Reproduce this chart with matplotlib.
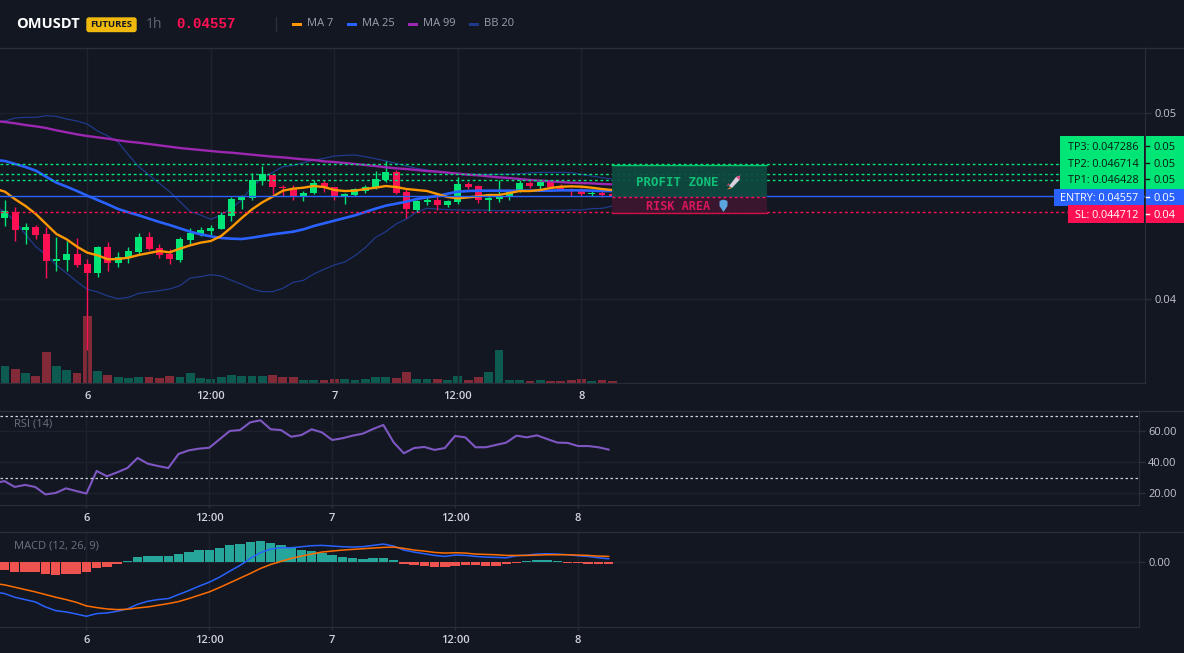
import numpy as np
import matplotlib
matplotlib.use("Agg")
import matplotlib.pyplot as plt
from matplotlib.patches import Rectangle, FancyBboxPatch, Polygon

W, H = 1184, 653
BG = "#131722"
GRID = "#1e222d"
BORDER = "#2a2e39"
UP = "#00e676"
DOWN = "#ff1053"

plt.rcParams["font.family"] = ["Open Sans", "DejaVu Sans"]

# prices are in millionths of USDT
open_p = [44373, 44677, 43728, 43871, 43495, 42061, 42097, 42419, 41882, 41398,
          42796, 41936, 42204, 42527, 43333, 42742, 42419, 42097, 43172, 43495,
          43656, 43763, 44462, 45322, 45430, 46344, 46666, 46003, 45914, 45484,
          45699, 46236, 46021, 45484, 45591, 45806, 45968, 46398, 46828, 45752,
          44785, 45215, 45322, 45054, 45215, 46183, 46075, 45322, 45376, 45484,
          45806, 46236, 46075, 46290, 46075, 45914, 45914, 45663, 45699, 45645]
high_p = [45322, 44928, 44068, 43978, 43853, 43333, 43136, 43280, 42151, 42849,
          43064, 42527, 42796, 43548, 43602, 42957, 42688, 43333, 43817, 43871,
          43978, 44677, 45484, 45591, 46774, 47150, 46720, 46129, 46129, 45806,
          46398, 46398, 46021, 45699, 45968, 46129, 46881, 47419, 46935, 45968,
          45322, 45537, 45537, 45322, 46559, 46290, 46129, 45537, 46398, 45860,
          46398, 46344, 46344, 46344, 46183, 45968, 45968, 45914, 45806, 45806]
low_p = [43943, 43136, 42975, 43226, 41147, 41523, 41523, 41720, 37259, 41201,
         41523, 41738, 41936, 42419, 42634, 42204, 41882, 41989, 42957, 43387,
         43441, 43763, 44193, 44839, 45322, 46129, 45645, 45537, 45322, 45269,
         45645, 45752, 45322, 45107, 45537, 45699, 45914, 46290, 45645, 44355,
         44677, 45054, 44785, 44946, 45107, 45914, 45161, 44731, 45215, 45322,
         45752, 45968, 45860, 45968, 45860, 45537, 45537, 45537, 45484, 45484]
close_p = [44731, 43728, 43871, 43441, 42061, 42151, 42419, 41846, 41398, 42796,
           41936, 42258, 42581, 43333, 42688, 42366, 42151, 43226, 43548, 43710,
           43817, 44516, 45376, 45484, 46398, 46702, 46021, 45968, 45484, 45699,
           46236, 46021, 45484, 45645, 45914, 46021, 46451, 46828, 45699, 44839,
           45269, 45322, 45054, 45269, 46183, 46021, 45322, 45430, 45537, 45752,
           46236, 46075, 46290, 46021, 45860, 45878, 45645, 45699, 45591, 45484]
volume = [52, 43, 31, 22, 94, 52, 40, 31, 202, 37,
          25, 19, 16, 19, 19, 16, 22, 19, 31, 16,
          13, 19, 25, 22, 22, 22, 25, 19, 19, 10,
          10, 10, 13, 13, 10, 13, 19, 19, 16, 34,
          13, 13, 13, 10, 22, 10, 19, 34, 100, 10,
          10, 7, 10, 7, 7, 10, 13, 7, 10, 7]

# the line series have one more point, off the left edge
ma7 = [45932, 45770, 45358, 45000, 44570, 44032, 43495, 43208, 42814, 42491,
       42348, 42133, 42151, 42222, 42366, 42473, 42581, 42509, 42706, 42885,
       43029, 43118, 43387, 43853, 44355, 44821, 45197, 45502, 45824, 45932,
       45985, 46075, 46021, 45860, 45806, 45824, 45914, 45985, 46075, 46021,
       45914, 45860, 45806, 45645, 45484, 45412, 45466, 45520, 45591, 45591,
       45699, 45806, 45806, 45860, 45968, 46039, 46057, 46039, 45985, 45914, 45860]
ma25 = [47473, 47419, 47258, 47096, 46899, 46577, 46254, 46039, 45806, 45555,
        45322, 45089, 44839, 44659, 44498, 44319, 44140, 43978, 43799, 43620,
        43477, 43369, 43280, 43244, 43226, 43297, 43387, 43477, 43548, 43620,
        43745, 43925, 44068, 44211, 44355, 44498, 44677, 44856, 45018, 45125,
        45233, 45376, 45466, 45537, 45663, 45770, 45806, 45824, 45824, 45824,
        45824, 45824, 45824, 45824, 45824, 45842, 45842, 45842, 45824, 45806, 45806]
ma99 = [49569, 49516, 49444, 49354, 49283, 49193, 49068, 48960, 48853, 48763,
        48691, 48620, 48530, 48458, 48405, 48333, 48261, 48190, 48118, 48064,
        48010, 47957, 47903, 47867, 47813, 47760, 47706, 47652, 47616, 47562,
        47509, 47473, 47401, 47365, 47312, 47258, 47204, 47150, 47079, 47025,
        46989, 46935, 46881, 46846, 46792, 46738, 46684, 46648, 46595, 46541,
        46505, 46451, 46398, 46362, 46326, 46290, 46254, 46236, 46218, 46183, 46165]
bb_upper = [49534, 49569, 49731, 49767, 49767, 49856, 49820, 49677, 49569, 49408,
            49032, 48763, 48440, 47742, 47114, 46666, 46218, 45770, 45233, 44695,
            44516, 44283, 44516, 44874, 45322, 46039, 46487, 46810, 47114, 47186,
            47329, 47473, 47562, 47688, 47724, 47742, 47652, 47544, 47419, 47294,
            47150, 47025, 46935, 46864, 46810, 46756, 46720, 46702, 46702, 46702,
            46720, 46738, 46774, 46810, 46810, 46810, 46792, 46702, 46613, 46523, 46451]
bb_lower = [44964, 44695, 44158, 43477, 42814, 42366, 41828, 41380, 40932, 40520,
            40376, 40161, 40018, 40090, 40305, 40376, 40448, 40538, 40717, 41129,
            41201, 41308, 41237, 41004, 40789, 40538, 40394, 40394, 40574, 40896,
            41004, 41344, 41595, 41828, 41989, 42330, 42760, 43315, 43620, 44032,
            44301, 44677, 44874, 44839, 44803, 44785, 44767, 44785, 44767, 44749,
            44749, 44749, 44749, 44767, 44767, 44767, 44785, 44785, 44856, 44874, 45000]

rsi = [26.4, 27.9, 24.1, 25.4, 24.1, 19.3, 20.2, 23.2, 21.5, 19.8,
       34.4, 31.0, 33.5, 36.3, 42.8, 39.1, 37.6, 36.3, 45.4, 47.7,
       48.8, 49.4, 54.8, 60.2, 60.8, 65.8, 67.1, 61.3, 60.8, 56.5,
       57.6, 61.3, 59.3, 54.4, 55.5, 57.2, 58.5, 61.5, 64.1, 52.9,
       45.8, 49.2, 49.9, 48.0, 49.2, 57.0, 56.1, 49.7, 49.7, 51.2,
       52.7, 57.2, 56.1, 57.4, 55.0, 52.7, 52.5, 50.5, 50.5, 49.7, 48.2]

# macd series in 1e-5 USDT
macd_hist = [-25, -32, -32, -32, -38, -41, -36, -36, -32, -20,
             -17, -8, 2, 14, 16, 16, 16, 22, 28, 34,
             34, 40, 49, 52, 58, 61, 55, 49, 40, 34,
             31, 25, 19, 13, 10, 7, 10, 10, 4, -8,
             -10, -14, -17, -17, -12, -10, -10, -12, -12, -8,
             -5, 2, 4, 4, 2, -3, -4, -8, -8, -8]
macd_line = [-90, -95, -106, -113, -120, -135, -146, -150, -156, -163,
             -155, -153, -148, -141, -127, -118, -113, -110, -98, -86,
             -73, -61, -46, -28, -11, 10, 27, 38, 42, 42,
             45, 48, 49, 47, 45, 44, 45, 49, 53, 47,
             35, 29, 24, 19, 16, 20, 19, 16, 14, 13,
             12, 18, 20, 23, 24, 23, 21, 18, 16, 12, 9]
macd_signal = [-65, -69, -76, -83, -90, -98, -106, -113, -121, -132,
               -137, -141, -143, -142, -138, -135, -130, -125, -119, -110,
               -100, -90, -77, -63, -49, -35, -20, -8, 1, 10,
               17, 23, 29, 32, 35, 37, 39, 41, 43, 44,
               40, 35, 32, 28, 26, 27, 26, 23, 22, 21,
               19, 19, 19, 20, 21, 21, 21, 20, 19, 17, 16]

# level lines as they sit on the picture, the tags carry the printed values
tp_levels = [0.047242, 0.046704, 0.046382]
entry_level = 0.045522
sl_level = 0.044661

tick_pos = [8, 20, 32, 44, 56]
tick_names = ["6", "12:00", "7", "12:00", "8"]


def panel(x0, y0, x1, y1):
    return fig.add_axes([x0 / W, 1 - y1 / H, (x1 - x0) / W, (y1 - y0) / H])


def index_range(x0_px, x1_px, anchor, step):
    return (x0_px - anchor) / step + 8, (x1_px - anchor) / step + 8


def style_axis(a):
    a.set_facecolor("none")
    for s in ["top", "left"]:
        a.spines[s].set_visible(False)
    for s in ["right", "bottom"]:
        a.spines[s].set_color(BORDER)
    a.yaxis.tick_right()
    a.set_xticks(tick_pos, tick_names)
    a.tick_params(axis="x", colors=BORDER, labelcolor="#d1d4dc", length=2, width=1, labelsize=8, pad=4)
    a.tick_params(axis="y", colors=BORDER, labelcolor="#c3c6ce", length=4, width=1, labelsize=8, pad=3)
    for lab in a.get_xticklabels():
        lab.set_fontweight("semibold")
    a.grid(True, color=GRID, linewidth=1)
    a.set_axisbelow(True)


fig = plt.figure(figsize=(W / 100, H / 100), dpi=100, facecolor=BG)

x_candle = np.arange(len(close_p))
x_line = np.arange(len(ma7)) - 1
o = np.array(open_p) / 1e6
h = np.array(high_p) / 1e6
l = np.array(low_p) / 1e6
c = np.array(close_p) / 1e6
is_up = c >= o
colors = [UP if u else DOWN for u in is_up]

# volume lives behind the candles
ax_vol = panel(0, 48, 1145, 383)
ax_vol.set_zorder(1)
ax_vol.set_facecolor(BG)
ax_vol.axis("off")
ax_vol.set_xlim(*index_range(0, 1145, 87.3, 10.294))
ax_vol.set_ylim(0, 1005)
ax_vol.bar(x_candle, volume, width=0.86,
           color=["#0c5a50" if u else "#832a38" for u in is_up])

ax = panel(0, 48, 1145, 383)
ax.set_zorder(2)
style_axis(ax)
ax.set_xlim(*index_range(0, 1145, 87.3, 10.294))
ax.set_ylim(0.035484, 0.053495)
ax.set_yticks([0.04, 0.05], ["0.04", "0.05"])
ax.tick_params(axis="x", length=0, pad=6)

ax.plot(x_line, np.array(bb_upper) / 1e6, color="#1f3a8a", lw=0.9, zorder=2)
ax.plot(x_line, np.array(bb_lower) / 1e6, color="#1f3a8a", lw=0.9, zorder=2)

ax.vlines(x_candle, l, h, colors=colors, lw=1.0, zorder=3)
ax.bar(x_candle, np.maximum(np.abs(c - o), 0.00002), bottom=np.minimum(o, c),
       width=0.68, color=colors, zorder=3)

ax.plot(x_line, np.array(ma99) / 1e6, color="#9c27b0", lw=1.7, zorder=4)
ax.plot(x_line, np.array(ma25) / 1e6, color="#2962ff", lw=1.9, zorder=5)
ax.plot(x_line, np.array(ma7) / 1e6, color="#ff9800", lw=1.7, zorder=6)

for lvl in tp_levels:
    ax.axhline(lvl, color=UP, lw=1, ls=(0, (2, 2)), zorder=7)
ax.axhline(entry_level, color="#2962ff", lw=1, zorder=7)
ax.axhline(sl_level, color=DOWN, lw=1, ls=(0, (2, 2)), zorder=7)

# rsi
ax_rsi = panel(0, 411, 1138.5, 505)
style_axis(ax_rsi)
ax_rsi.set_xlim(*index_range(0, 1138.5, 86.4, 10.24))
ax_rsi.set_ylim(12.45, 73.1)
ax_rsi.set_yticks([20, 40, 60], ["20.00", "40.00", "60.00"])
ax_rsi.plot(x_line, rsi, color="#7e57c2", lw=1.5)
for lvl in [70, 30]:
    ax_rsi.axhline(lvl, color="#d1d4dc", lw=0.9, ls=(0, (2, 2)))

# macd
ax_macd = panel(0, 532, 1138.5, 627)
style_axis(ax_macd)
ax_macd.set_xlim(*index_range(0, 1138.5, 86.4, 10.24))
ax_macd.set_ylim(-195e-5, 89e-5)
ax_macd.set_yticks([0], ["0.00"])
hist = np.array(macd_hist) * 1e-5
ax_macd.bar(x_candle, hist, width=0.92,
            color=["#26a69a" if v >= 0 else "#ef5350" for v in hist], zorder=2)
ax_macd.plot(x_line, np.array(macd_line) * 1e-5, color="#2962ff", lw=1.1, zorder=3)
ax_macd.plot(x_line, np.array(macd_signal) * 1e-5, color="#ff6d00", lw=1.1, zorder=4)

# pixel overlay for header, price tags and the trade box
ov = fig.add_axes([0, 0, 1, 1], zorder=10)
ov.set_xlim(0, W)
ov.set_ylim(H, 0)
ov.axis("off")
ov.patch.set_visible(False)

ov.plot([0, W], [48, 48], color=BORDER, lw=1)
ov.plot([0, W], [410.5, 410.5], color=BORDER, lw=1)
ov.plot([0, W], [532, 532], color=BORDER, lw=1)

ov.text(16, 24, "OMUSDT", color="white", fontsize=10.5, fontweight="bold", va="center")
ov.add_patch(FancyBboxPatch((87, 18), 49, 13.5, boxstyle="round,pad=0,rounding_size=2",
                            fc="#f0b90b", ec="#f0b90b", lw=1))
ov.text(111.5, 24.7, "FUTURES", color="#131722", fontsize=6.8, fontweight="bold", ha="center", va="center")
ov.text(146, 24, "1h", color="#5d6673", fontsize=10, va="center")
ov.text(176, 24, "0.04557", color=DOWN, fontsize=10.2, fontweight="bold",
        family="Liberation Mono", va="center")
ov.plot([276, 276], [17, 31], color=BORDER, lw=1)

legend_items = [("MA 7", "#ff9800", 292), ("MA 25", "#2962ff", 347),
                ("MA 99", "#9c27b0", 408), ("BB 20", "#1f3a8a", 469)]
for name, col, x in legend_items:
    ov.add_patch(Rectangle((x, 23), 10, 2.5, fc=col, ec="none"))
    ov.text(x + 15, 24, name, color="#9aa0ac", fontsize=8, va="center")

ov.text(14, 424, "RSI (14)", color="#6a7280", fontsize=8, va="center")
ov.text(14, 546, "MACD (12, 26, 9)", color="#6a7280", fontsize=8, va="center")

# trade box
ov.add_patch(Rectangle((612, 165), 155, 32, fc="#0e4a40", ec="none", alpha=0.93))
ov.add_patch(Rectangle((612, 197), 155, 16, fc="#3e1530", ec="none", alpha=0.93))
ov.plot([612, 767], [165, 165], color=UP, lw=1, alpha=0.8)
ov.plot([612, 767], [196.5, 196.5], color=DOWN, lw=1, ls=(0, (2, 2)))
ov.plot([612, 767], [213, 213], color=DOWN, lw=1, alpha=0.8)
ov.text(636, 182, "PROFIT ZONE", color="#10c078", fontsize=9, fontweight="bold",
        family="DejaVu Sans Mono", va="center")
ov.text(646, 206, "RISK AREA", color="#d8175c", fontsize=8.6, fontweight="bold",
        family="DejaVu Sans Mono", va="center")

# rocket and shield emoji, no installed font has them
ov.add_patch(Polygon([(729, 186), (736, 177), (740, 175.5), (739.5, 180), (732, 188)],
                     fc="#d8d0dc", ec="none"))
ov.add_patch(Polygon([(736, 177), (740, 175.5), (739.5, 180)], fc="#e0457b", ec="none"))
ov.add_patch(Polygon([(729, 183), (726.5, 186), (729.5, 185)], fc="#e0457b", ec="none"))
ov.add_patch(Polygon([(730, 187), (727, 189.5), (731.5, 188.5)], fc="#f08030", ec="none"))
ov.add_patch(Polygon([(719.5, 201), (723.5, 199.5), (727.5, 201), (727.5, 206),
                      (723.5, 212), (719.5, 206)], fc="#5aa5e0", ec="none"))

# price tags
tags = [("TP3: 0.047286", "0.05", 146, "#0b1a14"), ("TP2: 0.046714", "0.05", 163, "#0b1a14"),
        ("TP1: 0.046428", "0.05", 179, "#0b1a14"), ("ENTRY: 0.04557", "0.05", 197, "white"),
        ("SL: 0.044712", "0.04", 214, "white")]
ov.add_patch(Rectangle((1060, 136), 83.5, 53, fc=UP, ec="none"))
ov.add_patch(Rectangle((1054, 188.5), 89.5, 17.5, fc="#2962ff", ec="none"))
ov.add_patch(Rectangle((1068, 205), 75.5, 18, fc=DOWN, ec="none"))
ov.add_patch(Rectangle((1145.5, 136), 38.5, 53, fc=UP, ec="none"))
ov.add_patch(Rectangle((1145.5, 188.5), 38.5, 17.5, fc="#2962ff", ec="none"))
ov.add_patch(Rectangle((1145.5, 205), 38.5, 18, fc=DOWN, ec="none"))
for label, val, y, col in tags:
    ov.text(1138.5, y, label, color=col, fontsize=7.8, fontweight="medium", ha="right", va="center_baseline")
    ov.text(1153, y, val, color=col, fontsize=8, fontweight="medium", va="center_baseline")
    ov.plot([1146, 1149], [y, y], color=col, lw=1)

fig.savefig("out.png", dpi=100, facecolor=BG)
